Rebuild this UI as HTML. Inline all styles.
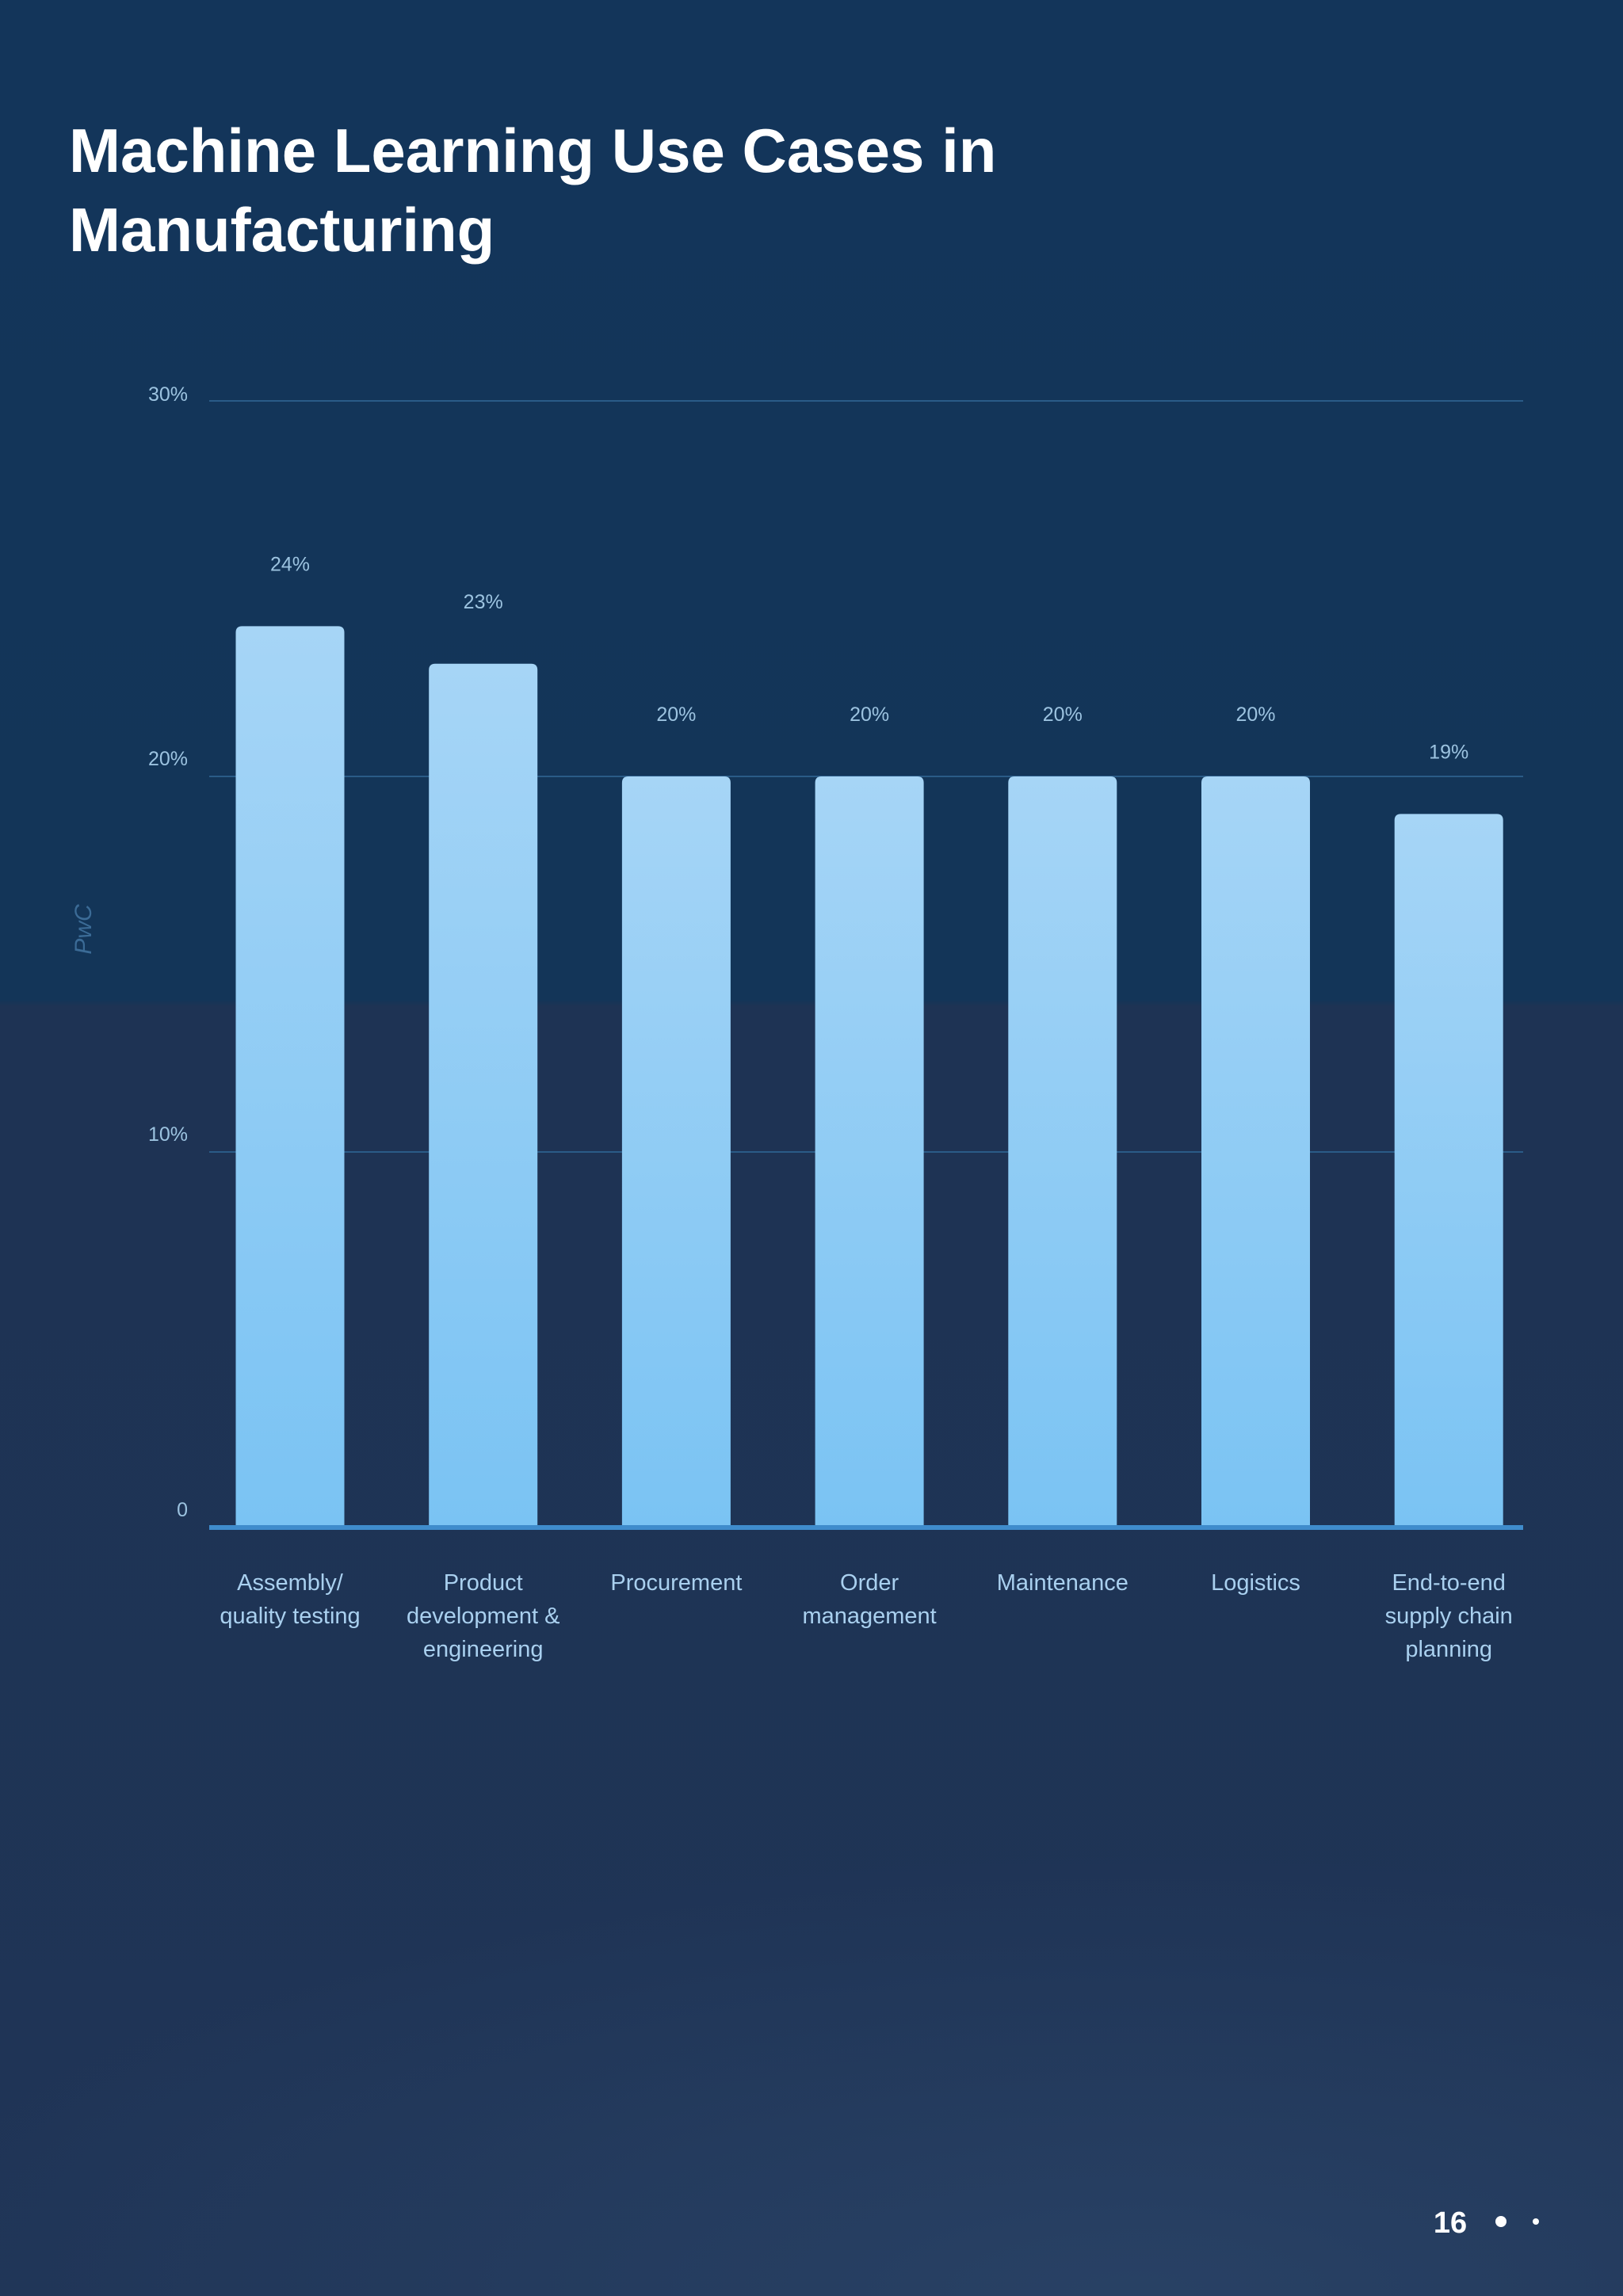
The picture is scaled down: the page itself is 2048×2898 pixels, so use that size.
<!DOCTYPE html>
<html><head><meta charset="utf-8"><style>
body{margin:0;width:2048px;height:2898px;overflow:hidden;font-family:"Liberation Sans",sans-serif;}
#page{position:relative;width:2048px;height:2898px;background:linear-gradient(#13355a 0,#133558 1262px,#1e3354 1270px,#1f3456 2898px);}
h1{position:absolute;left:87px;top:140px;margin:0;color:#fff;font-size:78px;line-height:100px;font-weight:bold;}
</style></head><body>
<div id="page">
<h1>Machine Learning Use Cases in<br>Manufacturing</h1>
<svg id="chart" width="2048" height="2898" style="position:absolute;left:0;top:0">
<defs>
<linearGradient id="bg" x1="0" y1="0" x2="0" y2="1"><stop offset="0" stop-color="#a6d5f6"/><stop offset="1" stop-color="#7ac3f3"/></linearGradient>
<radialGradient id="wave" cx="0.7" cy="1" r="0.8"><stop offset="0" stop-color="#3a5a80" stop-opacity="0.35"/><stop offset="1" stop-color="#3a5a80" stop-opacity="0"/></radialGradient>
</defs>
<rect x="0" y="2200" width="2048" height="698" fill="url(#wave)"/>
<g id="grid"></g><g id="bars"></g><g id="labels"></g>
<text x="115" y="1173" transform="rotate(-90 115 1173)" text-anchor="middle" font-size="30" font-style="italic" fill="#3b6b96">PwC</text>
<text x="1830" y="2818" text-anchor="middle" font-size="38" font-weight="bold" fill="#fff">16</text>
<circle cx="1894" cy="2804" r="7" fill="#fff"/>
<circle cx="1938" cy="2804" r="4" fill="#fff"/>
</svg>
</div>
<script>
const categories=[["Assembly/","quality testing"],["Product","development &","engineering"],["Procurement"],["Order","management"],["Maintenance"],["Logistics"],["End-to-end","supply chain","planning"]];
const values=[24,23,20,20,20,20,19];
const valueLabels=["24%","23%","20%","20%","20%","20%","19%"];
const ticks=[0,10,20,30];
const tickLabels=["0","10%","20%","30%"];
const NS="http://www.w3.org/2000/svg";
const y0=1928,yPer=47.4,x0=366,step=243.7,bw=137;
const y=v=>y0-v*yPer, x=i=>x0+i*step;
function mk(t,a,p){const e=document.createElementNS(NS,t);for(const k in a)e.setAttribute(k,a[k]);p.appendChild(e);return e;}
const g=document.getElementById('grid'),b=document.getElementById('bars'),l=document.getElementById('labels');
ticks.forEach((t,i)=>{
 if(t>0){const ln=mk('line',{x1:264,x2:1922,y1:y(t),y2:y(t),stroke:'#2a5b87','stroke-width':2},g);
 
 }
 const tx=mk('text',{x:237,y:y(t)-(t===30?0:14),'text-anchor':'end','font-size':25,fill:'#9cc3e0'},g);
 tx.textContent=tickLabels[i];
 
 
});
values.forEach((v,i)=>{
 const r=mk('path',{d:`M${x(i)-bw/2},${y0} V${y(v)+8} q0,-8 8,-8 h${bw-16} q8,0 8,8 V${y0} Z`,fill:'url(#bg)'},b);
 
 
 const vt=mk('text',{x:x(i),y:y(v)-70,'text-anchor':'middle','font-size':25,fill:'#9cc3e0'},l);
 vt.textContent=valueLabels[i];
 
 
 categories[i].forEach((line,j)=>{
  const ct=mk('text',{x:x(i),y:2007+j*42,'text-anchor':'middle','font-size':29,fill:'#a9d0ef'},l);
  ct.textContent=line;
  
  
 });
});
const ax=mk('line',{x1:264,x2:1922,y1:y0,y2:y0,stroke:'#3f8ccc','stroke-width':6},b);


</script>
</body></html>
